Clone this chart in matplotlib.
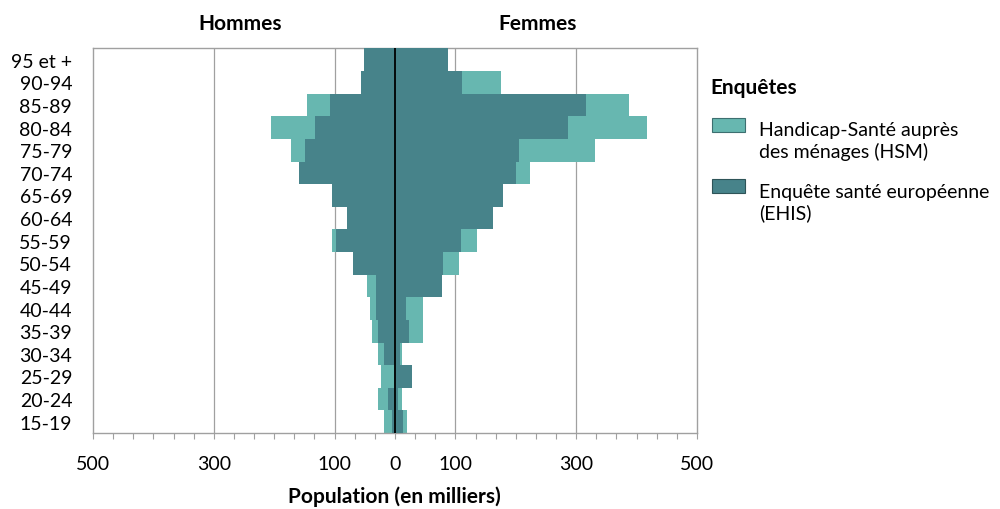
import numpy as np
import matplotlib
matplotlib.use("Agg")
import matplotlib.pyplot as plt
from matplotlib.patches import Rectangle

plt.rcParams['font.family'] = ['Lato', 'DejaVu Sans']

# age groups, bottom to top
ages = ['15-19', '20-24', '25-29', '30-34', '35-39', '40-44', '45-49', '50-54',
        '55-59', '60-64', '65-69', '70-74', '75-79', '80-84', '85-89', '90-94', '95 et +']

# population in thousands
hommes_hsm = [18, 28, 23, 28, 38, 42, 46, 65, 105, 75, 100, 150, 173, 206, 145, 50, 45]
hommes_ehis = [5, 12, 1, 18, 28, 32, 32, 70, 98, 79, 104, 159, 149, 132, 107, 56, 52]
femmes_hsm = [20, 12, 20, 12, 46, 46, 70, 106, 135, 150, 170, 224, 331, 418, 387, 175, 80]
femmes_ehis = [14, 5, 28, 8, 24, 18, 77, 80, 110, 162, 179, 201, 206, 286, 316, 111, 87]

light = '#67b7b0'
dark = '#47838a'
grid_col = '#a0a0a0'

fig = plt.figure(figsize=(10, 5.1), dpi=100)
ax = fig.add_axes([0.093, 0.149, 0.604, 0.754])

y = np.arange(len(ages))
ax.barh(y, -np.array(hommes_hsm), height=1.0, color=light, zorder=2)
ax.barh(y, femmes_hsm, height=1.0, color=light, zorder=2)
ax.barh(y, -np.array(hommes_ehis), height=1.0, color=dark, zorder=3)
ax.barh(y, femmes_ehis, height=1.0, color=dark, zorder=3)

# grid lines and centre line
for v in [-300, -100, 100, 300]:
    ax.axvline(v, color=grid_col, lw=0.9, zorder=1)
ax.axvline(0, color='black', lw=1.3, zorder=4)

ax.set_xlim(-500, 500)
ax.set_ylim(-0.5, len(ages) - 0.5)

major = [-500, -300, -100, 0, 100, 300, 500]
ax.set_xticks(major)
ax.set_xticklabels([str(abs(v)) for v in major])
ax.set_xticks(np.linspace(-500, 500, 31), minor=True)
ax.tick_params(axis='x', which='both', length=4, width=0.8, color=grid_col,
               labelsize=14, pad=12)
ax.set_yticks(y)
ax.set_yticklabels(ages)
ax.tick_params(axis='y', length=0, labelsize=14, pad=15)

for s in ax.spines.values():
    s.set_color(grid_col)
    s.set_linewidth(1.0)

fig.text(0.240, 0.953, 'Hommes', ha='center', va='center', fontsize=15, fontweight='bold')
fig.text(0.538, 0.953, 'Femmes', ha='center', va='center', fontsize=15, fontweight='bold')
fig.text(0.394, 0.026, 'Population (en milliers)', ha='center', va='center',
         fontsize=15, fontweight='bold')

# legend
fig.text(0.710, 0.827, 'Enquêtes', ha='left', va='center', fontsize=15, fontweight='bold')
fig.patches.append(Rectangle((0.712, 0.739), 0.033, 0.028, transform=fig.transFigure,
                             facecolor=light, edgecolor='#3d6f70', lw=0.8))
fig.text(0.759, 0.760, 'Handicap-Santé auprès\ndes ménages (HSM)', ha='left', va='top',
         fontsize=14, linespacing=1.25)
fig.patches.append(Rectangle((0.712, 0.619), 0.033, 0.028, transform=fig.transFigure,
                             facecolor=dark, edgecolor='#2e5458', lw=0.8))
fig.text(0.759, 0.640, 'Enquête santé européenne\n(EHIS)', ha='left', va='top',
         fontsize=14, linespacing=1.25)

fig.savefig('out.png', dpi=100)
